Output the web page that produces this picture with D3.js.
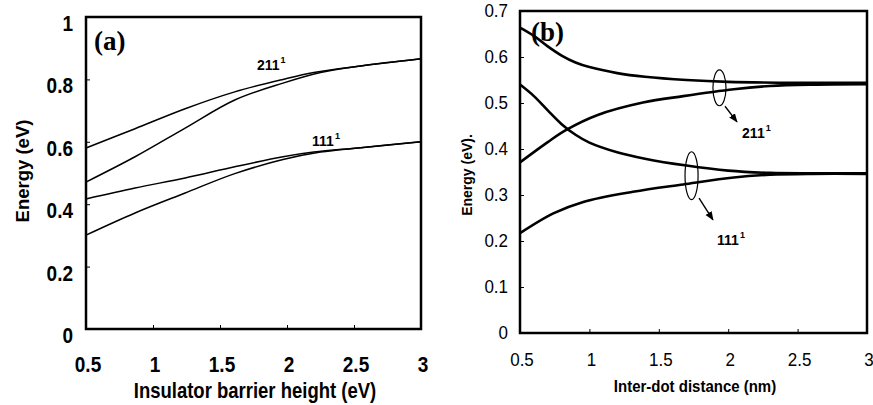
<!DOCTYPE html>
<html><head><meta charset="utf-8">
<script src="https://cdn.jsdelivr.net/npm/d3@7"></script>
<style>body{margin:0;background:#fff}svg{display:block}</style>
</head><body>
<svg id="c" width="873" height="405"></svg>
<script>
// ---------- Panel (a) data ----------
const aXTicks = [0.5, 1, 1.5, 2, 2.5, 3];
const aXTickLabels = ["0.5", "1", "1.5", "2", "2.5", "3"];
const aYTicks = [0, 0.2, 0.4, 0.6, 0.8, 1];
const aYTickLabels = ["0", "0.2", "0.4", "0.6", "0.8", "1"];
const a211Upper = [[0.5,0.58],[0.866,0.642],[1.24,0.706],[1.61,0.76],[1.97,0.80],[2.2,0.822],[2.55,0.843],[3,0.866]];
const a211Lower = [[0.5,0.471],[0.866,0.552],[1.24,0.644],[1.61,0.734],[1.97,0.788],[2.25,0.822],[2.55,0.843],[3,0.866]];
const a111Upper = [[0.5,0.417],[0.866,0.452],[1.24,0.484],[1.61,0.52],[1.97,0.552],[2.2,0.567],[2.55,0.581],[3,0.6]];
const a111Lower = [[0.5,0.301],[0.866,0.372],[1.24,0.436],[1.61,0.498],[1.97,0.543],[2.25,0.567],[2.55,0.581],[3,0.6]];

// ---------- Panel (b) data ----------
const bXTicks = [0.5, 1, 1.5, 2, 2.5, 3];
const bXTickLabels = ["0.5", "1", "1.5", "2", "2.5", "3"];
const bYTicks = [0, 0.1, 0.2, 0.3, 0.4, 0.5, 0.6, 0.7];
const bYTickLabels = ["0", "0.1", "0.2", "0.3", "0.4", "0.5", "0.6", "0.7"];
const b211Upper = [[0.5,0.664],[0.6,0.646],[0.7,0.623],[0.8,0.603],[0.9,0.588],[1.0,0.578],[1.2,0.565],[1.4,0.557],[1.7,0.55],[2.0,0.546],[2.5,0.544],[3,0.544]];
const b211Lower = [[0.5,0.371],[0.7,0.415],[0.83,0.441],[1.06,0.474],[1.386,0.501],[1.676,0.515],[2.04,0.53],[2.3,0.537],[2.6,0.54],[3,0.541]];
const b111Upper = [[0.5,0.54],[0.6,0.515],[0.7,0.484],[0.8,0.454],[0.9,0.431],[1.0,0.414],[1.2,0.393],[1.4,0.379],[1.7,0.364],[2.0,0.353],[2.3,0.348],[2.6,0.347],[3,0.347]];
const b111Lower = [[0.5,0.217],[0.74,0.26],[0.956,0.285],[1.314,0.307],[1.676,0.323],[2.04,0.338],[2.3,0.344],[2.6,0.346],[3,0.346]];

const svg = d3.select("#c");
const FONT = "'Liberation Sans', Arial, sans-serif";

function panel(opt){
  const x = d3.scaleLinear().domain([0.5,3]).range([opt.l, opt.r]);
  const y = d3.scaleLinear().domain(opt.yDomain).range([opt.b, opt.t]);
  const g = svg.append("g");
  const line = d3.line().x(d=>x(d[0])).y(d=>y(d[1])).curve(d3.curveCatmullRom.alpha(0.5));
  opt.series.forEach(s=>{
    g.append("path").attr("d", line(s)).attr("fill","none").attr("stroke","#000")
      .attr("stroke-width", opt.lw).attr("stroke-linejoin","round");
  });
  const yAxis = d3.axisRight(y).tickValues(opt.yTicks).tickSize(4).tickFormat("");
  g.append("g").attr("transform",`translate(${opt.l},0)`).call(yAxis)
    .call(a=>{a.select(".domain").remove(); a.selectAll("line").attr("stroke","#000").attr("stroke-width",1);});
  const xAxis = d3.axisTop(x).tickValues(opt.xTicks).tickSize(4).tickFormat("");
  g.append("g").attr("transform",`translate(0,${opt.b})`).call(xAxis)
    .call(a=>{a.select(".domain").remove(); a.selectAll("line").attr("stroke","#000").attr("stroke-width",1);});
  g.append("rect").attr("x",opt.l).attr("y",opt.t).attr("width",opt.r-opt.l).attr("height",opt.b-opt.t)
    .attr("fill","none").attr("stroke","#000").attr("stroke-width",2.5);
  g.selectAll(".yl").data(opt.yTicks).join("text")
    .attr("transform", d=>`translate(${opt.l - opt.yLabelGap},${y(d)+opt.yLabelDy}) scale(1,${opt.vs})`)
    .attr("text-anchor","end").attr("font-family",FONT).attr("font-size",opt.tickFs)
    .attr("font-weight",opt.tickFw).text((d,i)=>opt.yTickLabels[i]);
  g.selectAll(".xl").data(opt.xTicks).join("text")
    .attr("transform", d=>`translate(${x(d)+opt.xLabelDx},${opt.xLabelY}) scale(1,${opt.vs})`)
    .attr("text-anchor","middle").attr("font-family",FONT).attr("font-size",opt.tickFs)
    .attr("font-weight",opt.tickFw).text((d,i)=>opt.xTickLabels[i]);
  g.append("text").attr("transform",`translate(${opt.xTitleX},${opt.xTitleY}) scale(1,${opt.vs})`).attr("text-anchor","middle")
    .attr("font-family",FONT).attr("font-weight","bold").attr("font-size",opt.xTitleFs).text(opt.xTitle);
  g.append("text").attr("transform",`translate(${opt.yTitleX},${opt.yTitleY}) rotate(-90)`)
    .attr("text-anchor","middle").attr("font-family",FONT).attr("font-weight","bold")
    .attr("font-size",opt.yTitleFs).text(opt.yTitle);
  g.append("text").attr("x",opt.letterX).attr("y",opt.letterY)
    .attr("font-family","'Liberation Serif','Times New Roman',serif").attr("font-weight","bold")
    .attr("font-size",27).text(opt.letter);
  return {g,x,y};
}

// Panel (a)
const A = panel({l:86, r:421, t:17, b:329, yDomain:[0,1], series:[a211Upper,a211Lower,a111Upper,a111Lower], lw:1.5,
  xTicks:aXTicks, xTickLabels:aXTickLabels, yTicks:aYTicks, yTickLabels:aYTickLabels, vs:1.15,
  tickFs:19, tickFw:"bold", yLabelGap:13, yLabelDy:14, xLabelDx:2, xLabelY:372,
  xTitle:"Insulator barrier height (eV)", xTitleX:255, xTitleY:398, xTitleFs:18.5,
  yTitle:"Energy (eV)", yTitleX:29, yTitleY:171, yTitleFs:18.5,
  letter:"(a)", letterX:94, letterY:50});

// Panel (b)
const B = panel({l:520, r:867, t:11, b:333, yDomain:[0,0.7], series:[b211Upper,b211Lower,b111Upper,b111Lower], lw:2.6,
  xTicks:bXTicks, xTickLabels:bXTickLabels, yTicks:bYTicks, yTickLabels:bYTickLabels, vs:1.1,
  tickFs:17, tickFw:"normal", yLabelGap:12, yLabelDy:6, xLabelDx:2, xLabelY:366,
  xTitle:"Inter-dot distance (nm)", xTitleX:695, xTitleY:392, xTitleFs:15,
  yTitle:"Energy (eV).", yTitleX:472, yTitleY:175, yTitleFs:14,
  letter:"(b)", letterX:531, letterY:41});

// state labels
const aLabels = [{x:1.776, y:0.83, main:"211", sup:"1"},{x:2.187, y:0.587, main:"111", sup:"1"}];
const bLabels = [{x:2.10, y:0.424, main:"211", sup:"1"},{x:1.92, y:0.191, main:"111", sup:"1"}];
function drawLabels(P, labels){
  labels.forEach(L=>{
    const t = P.g.append("text").attr("x",P.x(L.x)).attr("y",P.y(L.y)).attr("font-family",FONT)
      .attr("font-weight","bold").attr("font-size",14);
    t.append("tspan").text(L.main);
    t.append("tspan").attr("dx",1).attr("dy",-7).attr("font-size",9).text(L.sup);
  });
}
drawLabels(A, aLabels);
drawLabels(B, bLabels);

// ellipses and arrows in panel (b)
const bEllipses = [{x:1.937, y:0.533, rx:0.047, ry:0.039},{x:1.736, y:0.342, rx:0.047, ry:0.052}];
const bArrows = [{x1:1.977, y1:0.493, x2:2.063, y2:0.459},{x1:1.79, y1:0.293, x2:1.89, y2:0.246}];
const defs = svg.append("defs");
defs.append("marker").attr("id","ah").attr("viewBox","0 0 10 10").attr("refX",9).attr("refY",5)
  .attr("markerWidth",9).attr("markerHeight",9).attr("markerUnits","userSpaceOnUse").attr("orient","auto")
  .append("path").attr("d","M0,1 L10,5 L0,9 Z").attr("fill","#000");
bEllipses.forEach(e=>{
  B.g.append("ellipse").attr("cx",B.x(e.x)).attr("cy",B.y(e.y))
    .attr("rx",B.x(e.x+e.rx)-B.x(e.x)).attr("ry",B.y(e.y-e.ry)-B.y(e.y))
    .attr("fill","none").attr("stroke","#000").attr("stroke-width",1.2);
});
bArrows.forEach(a=>{
  B.g.append("line").attr("x1",B.x(a.x1)).attr("y1",B.y(a.y1)).attr("x2",B.x(a.x2)).attr("y2",B.y(a.y2))
    .attr("stroke","#000").attr("stroke-width",1.4).attr("marker-end","url(#ah)");
});
</script>
</body></html>
